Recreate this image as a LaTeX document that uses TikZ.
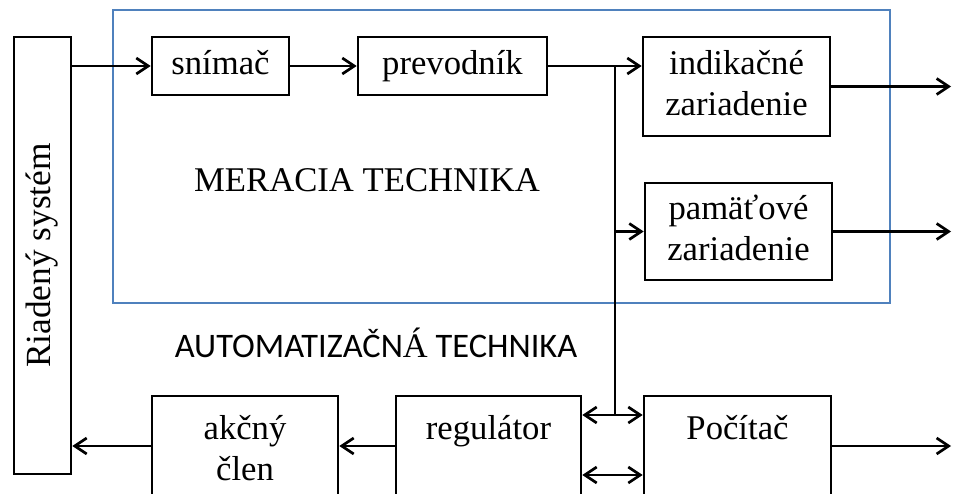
\documentclass[tikz,border=0pt]{standalone}
\usepackage{fontspec}
\setmainfont{Liberation Serif}
\newfontfamily\calib{Carlito}
\usepackage{tikz}
\usetikzlibrary{arrows.meta}
\definecolor{meraciablue}{HTML}{4F81BD}

\begin{document}
\begin{tikzpicture}[x=0.75pt,y=-0.75pt,line width=2pt,
    >={Straight Barb[length=9pt,width=12pt]},
    blok/.style={draw,fill=white,align=center,inner sep=0pt,
        font=\fontsize{26}{31}\selectfont}]
  \useasboundingbox (0,0) rectangle (953,493);
  \clip (0,0) rectangle (953,493);
   % merania
   \draw[meraciablue] (113,10) rectangle (890,303);
   \node[font=\fontsize{26}{31}\selectfont] (mer) at (367,180) {MERACIA TECHNIKA};
   \node[font=\calib\fontsize{25.8}{30}\selectfont] (aut) at (376,343) {AUTOMATIZAČN{\rmfamily Á} TECHNIKA};
    \node[blok,minimum width=42.75pt,minimum height=327.75pt] (sys) at (42.5,255.5) {};
    \node[rotate=90,font=\fontsize{26.5}{31}\selectfont] (systxt) at (sys) {Riadený systém};
    \node[blok,minimum width=102.75pt,minimum height=43.5pt] (snimac) at (220.5,66) {snímač\strut};
    \node[blok,minimum width=141.75pt,minimum height=43.5pt] (prevodnik) at (452.5,66) {prevodník\strut};
    \node[blok,minimum width=140.25pt,minimum height=74.25pt] (indik) at (736.5,86.5) {indikačné\strut\\zariadenie\strut};
    \node[blok,minimum width=140.25pt,minimum height=72.75pt] (pamat) at (738.5,231.5) {pamäťové\strut\\zariadenie\strut};
    \node[blok,minimum width=139.5pt,minimum height=84pt] (akcny) at (245,452) {akčný\strut\\člen\strut};
    \node[blok,minimum width=138.75pt,minimum height=84pt] (regul) at (488.5,452) {regulátor\strut\\\strut};
    \node[blok,minimum width=140.25pt,minimum height=84pt] (pocitac) at (737.5,452) {Počítač\strut\\\strut};
  \coordinate (uzol) at (615,66);
  \coordinate (out1) at (951,86.5);
  \coordinate (out2) at (951,231.5);
  \coordinate (out3) at (951,446);
  % spojenia
       \draw[->] (sys.east |- snimac) -- (snimac);
       \draw[->] (snimac) -- (prevodnik);
       \draw[->] (prevodnik) -- (prevodnik -| indik.west);
       \draw (uzol) -- (uzol |- 0,415);
       \draw[->] (uzol |- pamat) -- (pamat);
       \draw[->] (indik) -- (out1);
       \draw[->] (pamat) -- (out2);
       \draw[->] (pocitac.east |- out3) -- (out3);
       \draw[<->] (regul.east |- 0,415) -- (pocitac.west |- 0,415);
       \draw[<->] (regul.east |- 0,475) -- (pocitac.west |- 0,475);
       \draw[->] (regul.west |- 0,446) -- (akcny.east |- 0,446);
       \draw[->] (akcny.west |- 0,446) -- (sys.east |- 0,446);
\end{tikzpicture}
\end{document}
